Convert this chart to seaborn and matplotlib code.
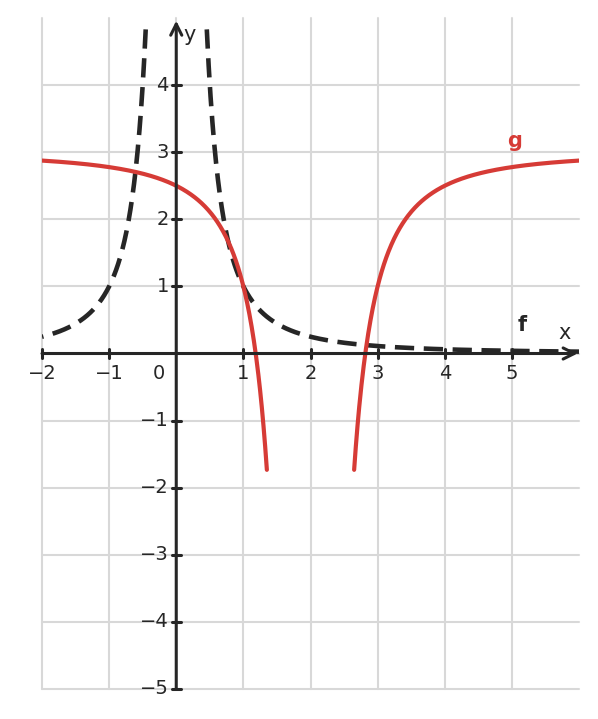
import numpy as np
import pandas as pd
import matplotlib
matplotlib.use("Agg")
import matplotlib.pyplot as plt
import seaborn as sns

# curve parameters: y = k + a / (x - h)^2
f_params = {"a": 1.0, "h": 0.0, "k": 0.0}
g_params = {"a": -2.0, "h": 2.0, "k": 3.0}
# drawn x pieces of each curve (start, end)
f_pieces = [(-0.455, -2.0), (0.455, 6.0)]
g_pieces = [(-2.0, 1.35), (2.65, 6.0)]

x_ticks = [-2, -1, 1, 2, 3, 4, 5]
y_ticks = [-5, -4, -3, -2, -1, 1, 2, 3, 4]

sns.set_style("white")
plt.rcParams['font.family'] = ['DejaVu Sans']

fig = plt.figure(figsize=(5.98, 7.19), dpi=100)
ax = fig.add_axes([42 / 598, 30 / 719, 537 / 598, 671 / 719])

def curve(p, lo, hi, name):
    xs = np.linspace(lo, hi, 400)
    return pd.DataFrame({"x": xs, "y": p["k"] + p["a"] / (xs - p["h"]) ** 2, "piece": name})

dark = "#262626"
red = "#d63b36"

for i, (lo, hi) in enumerate(f_pieces):
    d = curve(f_params, lo, hi, i)
    sns.lineplot(data=d, x="x", y="y", ax=ax, color=dark, lw=3.3, sort=False, zorder=4)
    ax.lines[-1].set_dashes((4.2, 2.1))
for i, (lo, hi) in enumerate(g_pieces):
    d = curve(g_params, lo, hi, i)
    sns.lineplot(data=d, x="x", y="y", ax=ax, color=red, lw=3, sort=False, zorder=5)

ax.set_xlim(-2, 6)
ax.set_ylim(-5, 5)
# grid only at -2..5 and -5..4
ax.set_xticks(range(-2, 6))
ax.set_yticks(range(-5, 5))
ax.grid(True, color="#d8d8d8", lw=1.5)
for gl in ax.get_xgridlines() + ax.get_ygridlines():
    gl.set_clip_on(False)
ax.tick_params(length=0, labelbottom=False, labelleft=False)
for s in ax.spines.values():
    s.set_visible(False)
ax.set_xlabel("")
ax.set_ylabel("")

# axes through the origin with arrows
ax.annotate("", xy=(5.98, 0), xytext=(-2, 0),
            arrowprops=dict(arrowstyle="->", color=dark, lw=2.2, mutation_scale=20, shrinkA=0, shrinkB=0), zorder=6)
ax.annotate("", xy=(0, 4.96), xytext=(0, -5),
            arrowprops=dict(arrowstyle="->", color=dark, lw=2.2, mutation_scale=20, shrinkA=0, shrinkB=0), zorder=6)

for t in x_ticks:
    ax.plot([t, t], [-0.07, 0.07], color=dark, lw=2.2, zorder=6, clip_on=False)
    ax.text(t, -0.16, "\u2212" + str(-t) if t < 0 else str(t), ha="center", va="top",
            fontsize=14, color=dark)
ax.text(-0.26, -0.16, "0", ha="center", va="top", fontsize=14, color=dark)
for t in y_ticks:
    ax.plot([-0.07, 0.07], [t, t], color=dark, lw=2.2, zorder=6, clip_on=False)
    ax.text(-0.11, t, "\u2212" + str(-t) if t < 0 else str(t), ha="right", va="center",
            fontsize=14, color=dark)

ax.text(5.78, 0.16, "x", ha="center", va="bottom", fontsize=15, color=dark)
ax.text(0.1, 4.75, "y", ha="left", va="center", fontsize=15, color=dark)
ax.text(5.16, 0.27, "f", ha="center", va="bottom", fontsize=15, color=dark, fontweight="bold")
ax.text(5.04, 3.02, "g", ha="center", va="bottom", fontsize=15, color=red, fontweight="bold")

fig.savefig("out.png", dpi=100)
